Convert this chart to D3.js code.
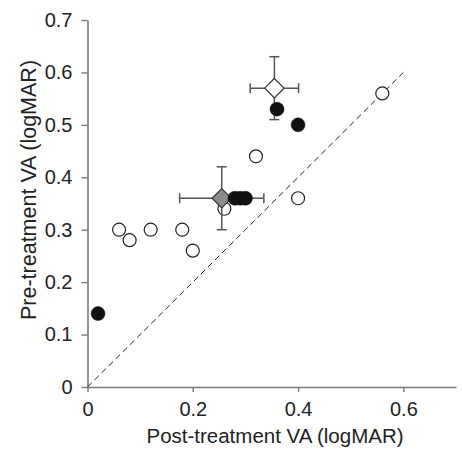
<!DOCTYPE html>
<html>
<head>
<meta charset="utf-8">
<script src="https://cdn.jsdelivr.net/npm/d3@7"></script>
<style>
  body { margin: 0; background: #fff; }
  svg text { font-family: "Liberation Sans", Arial, sans-serif; fill: #222; }
</style>
</head>
<body>
<div id="chart"></div>
<script>
  // post-treatment (x) vs pre-treatment (y) VA, logMAR
  const openX = [0.56, 0.32, 0.40, 0.26, 0.06, 0.08, 0.12, 0.18, 0.20];
  const openY = [0.56, 0.44, 0.36, 0.34, 0.30, 0.28, 0.30, 0.30, 0.26];
  const filledX = [0.02, 0.28, 0.29, 0.30, 0.36, 0.40];
  const filledY = [0.14, 0.36, 0.36, 0.36, 0.53, 0.50];
  // group means with error bars
  const meanX = [0.355, 0.255];
  const meanY = [0.57, 0.36];
  const errX = [0.046, 0.08];
  const errY = [0.06, 0.06];
  const meanFill = ['#fff', '#8c8c8c'];
  const xTicks = [0, 0.2, 0.4, 0.6];
  const yTicks = [0, 0.1, 0.2, 0.3, 0.4, 0.5, 0.6, 0.7];

  const W = 462, H = 450;
  const margin = {top: 20, right: 6, bottom: 63, left: 87.5};

  const svg = d3.select('#chart').append('svg')
    .attr('width', W).attr('height', H);

  const x = d3.scaleLinear().domain([0, 0.7]).range([margin.left, W - margin.right]);
  const y = d3.scaleLinear().domain([0, 0.7]).range([H - margin.bottom, margin.top]);

  const fmt = d => d === 0 ? '0' : d3.format('.1f')(d);

  const gx = svg.append('g')
    .attr('transform', `translate(0,${y(0)})`)
    .call(d3.axisBottom(x).tickValues(xTicks).tickFormat(fmt).tickSize(5).tickSizeOuter(0).tickPadding(10));
  const gy = svg.append('g')
    .attr('transform', `translate(${x(0)},0)`)
    .call(d3.axisLeft(y).tickValues(yTicks).tickFormat(fmt).tickSize(6).tickSizeOuter(0).tickPadding(9));

  [gx, gy].forEach(g => {
    g.select('.domain').attr('stroke', '#7a7a7a').attr('stroke-width', 1.6);
    g.selectAll('.tick line').attr('stroke', '#7a7a7a').attr('stroke-width', 1.4);
    g.selectAll('.tick text').attr('font-size', 20).attr('fill', '#222');
  });

  // identity line
  svg.append('line')
    .attr('x1', x(0)).attr('y1', y(0)).attr('x2', x(0.6)).attr('y2', y(0.6))
    .attr('stroke', '#222').attr('stroke-width', 1).attr('stroke-dasharray', '6,4');

  // open circles
  svg.append('g').selectAll('circle').data(openX).join('circle')
    .attr('cx', d => x(d)).attr('cy', (d, i) => y(openY[i])).attr('r', 6.5)
    .attr('fill', '#fff').attr('stroke', '#222').attr('stroke-width', 1.2);

  // means with error bars
  const cap = 5;
  meanX.forEach((mx, i) => {
    const g = svg.append('g').attr('stroke', '#555').attr('stroke-width', 1.5);
    g.append('line').attr('x1', x(mx - errX[i])).attr('x2', x(mx + errX[i]))
      .attr('y1', y(meanY[i])).attr('y2', y(meanY[i]));
    g.append('line').attr('x1', x(mx)).attr('x2', x(mx))
      .attr('y1', y(meanY[i] - errY[i])).attr('y2', y(meanY[i] + errY[i]));
    [mx - errX[i], mx + errX[i]].forEach(v => g.append('line')
      .attr('x1', x(v)).attr('x2', x(v)).attr('y1', y(meanY[i]) - cap).attr('y2', y(meanY[i]) + cap));
    [meanY[i] - errY[i], meanY[i] + errY[i]].forEach(v => g.append('line')
      .attr('y1', y(v)).attr('y2', y(v)).attr('x1', x(mx) - cap).attr('x2', x(mx) + cap));
    const s = 9.7;
    const cx = x(mx), cy = y(meanY[i]);
    svg.append('path')
      .attr('d', `M${cx},${cy - s}L${cx + s},${cy}L${cx},${cy + s}L${cx - s},${cy}Z`)
      .attr('fill', meanFill[i]).attr('stroke', '#333').attr('stroke-width', 1.2);
  });

  // filled circles
  svg.append('g').selectAll('circle').data(filledX).join('circle')
    .attr('cx', d => x(d)).attr('cy', (d, i) => y(filledY[i])).attr('r', 7)
    .attr('fill', '#111').attr('stroke', '#111').attr('stroke-width', 0.5);

  // axis titles
  svg.append('text')
    .attr('x', 275).attr('y', 443)
    .attr('text-anchor', 'middle').attr('font-size', 20.5)
    .text('Post-treatment VA (logMAR)');
  svg.append('text')
    .attr('transform', 'translate(36,190) rotate(-90)')
    .attr('text-anchor', 'middle').attr('font-size', 21.5)
    .text('Pre-treatment VA (logMAR)');
</script>
</body>
</html>
